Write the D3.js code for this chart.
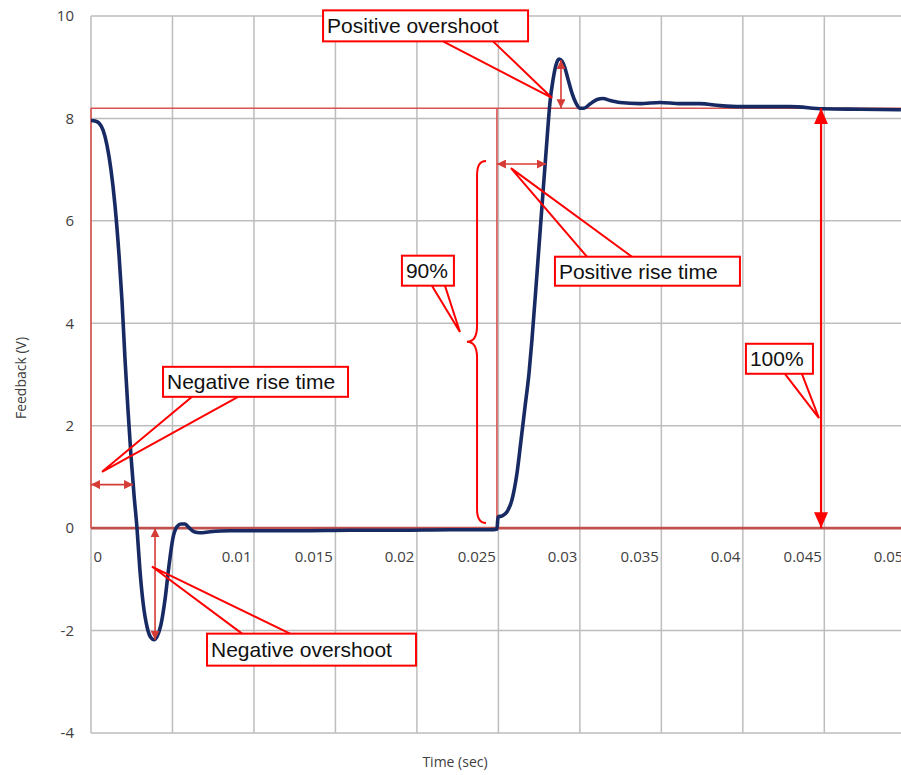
<!DOCTYPE html>
<html>
<head>
<meta charset="utf-8">
<script src="https://cdn.jsdelivr.net/npm/d3@7"></script>
<style>
  body { margin: 0; background: #fff; }
  svg { display: block; }
</style>
</head>
<body>
<script>
// step response
const timeSec = [0, 0.00025, 0.00049, 0.00074, 0.00098, 0.00123, 0.00147, 0.00172, 0.0019, 0.00209,
  0.00227, 0.00245, 0.00264, 0.00282, 0.003, 0.00319, 0.00344, 0.00368, 0.00387, 0.00405,
  0.00429, 0.00454, 0.00479, 0.00503, 0.00528, 0.00552, 0.00577, 0.00601, 0.00632, 0.00669,
  0.0073, 0.00853, 0.01037, 0.01283, 0.01589, 0.01896, 0.02203, 0.02448, 0.02491, 0.02498,
  0.02522, 0.02553, 0.02583, 0.02614, 0.02639, 0.02663, 0.02688, 0.02706, 0.02737, 0.02767,
  0.02798, 0.02816, 0.02835, 0.02853, 0.02872, 0.0289, 0.02909, 0.02927, 0.02952, 0.02976,
  0.03001, 0.03025, 0.03062, 0.03105, 0.03142, 0.03185, 0.03246, 0.03369, 0.03492, 0.03614,
  0.03737, 0.0386, 0.03983, 0.04105, 0.0429, 0.04492, 0.04719, 0.0497];
const feedbackV = [7.96, 7.95, 7.91, 7.77, 7.48, 6.99, 6.31, 5.33, 4.45, 3.28,
  2.31, 1.43, 0.65, 0.01, -0.81, -1.44, -1.93, -2.14, -2.18, -2.12,
  -1.89, -1.40, -0.72, -0.19, 0.03, 0.08, 0.08, 0.01, -0.07, -0.09,
  -0.07, -0.05, -0.05, -0.05, -0.04, -0.04, -0.03, -0.03, -0.02, 0.22,
  0.24, 0.32, 0.55, 1.07, 1.72, 2.36, 3.03, 3.68, 4.98, 6.27,
  7.58, 8.30, 8.75, 9.04, 9.16, 9.12, 8.98, 8.77, 8.49, 8.30,
  8.20, 8.20, 8.28, 8.37, 8.39, 8.35, 8.31, 8.29, 8.31, 8.29,
  8.29, 8.25, 8.23, 8.23, 8.23, 8.19, 8.18, 8.17];

const xGridValues = [0, 0.005, 0.01, 0.015, 0.02, 0.025, 0.03, 0.035, 0.04, 0.045, 0.05];
const xTickValues = [0, 0.01, 0.015, 0.02, 0.025, 0.03, 0.035, 0.04, 0.045, 0.05];
const xTickLabels = ['0', '0.01', '0.015', '0.02', '0.025', '0.03', '0.035', '0.04', '0.045', '0.05'];
const yTickValues = [-4, -2, 0, 2, 4, 6, 8, 10];

// reference levels
const finalLevel = 8.2;
const stepStart = 0;
const stepBack = 0.02491;

// measurement arrows [t1, v1, t2, v2]
const measureArrows = [
  [0, 0.85, 0.00258, 0.85],          // negative rise time
  [0.00393, 0, 0.00393, -2.18],      // negative overshoot
  [0.02491, 7.11, 0.02792, 7.11],    // positive rise time
  [0.02884, 9.14, 0.02884, 8.2]      // positive overshoot
];
const fullArrow = [0.0448, 8.2, 0.0448, 0];

// callouts: box corner (t, v), box size, tip (t, v), wedge base offsets, wedge side
const callouts = [
  { text: 'Negative rise time', t: 0.00442, v: 3.15, w: 185, h: 30, tipT: 0.00068, tipV: 1.10, base: [29, 75], side: 'bottom' },
  { text: 'Negative overshoot', t: 0.00712, v: -2.06, w: 209, h: 32, tipT: 0.00374, tipV: -0.75, base: [35, 83], side: 'top' },
  { text: '90%', t: 0.01908, v: 5.32, w: 52, h: 30, tipT: 0.02264, tipV: 3.83, base: [30, 43], side: 'bottom' },
  { text: 'Positive rise time', t: 0.02847, v: 5.30, w: 185, h: 29, tipT: 0.02577, tipV: 7.03, base: [32, 77], side: 'top' },
  { text: 'Positive overshoot', t: 0.01424, v: 10.11, w: 205, h: 31, tipT: 0.02829, tipV: 8.40, base: [120, 170], side: 'bottom' },
  { text: '100%', t: 0.04019, v: 3.6, w: 67, h: 30, tipT: 0.04467, tipV: 2.15, base: [39, 56], side: 'bottom' }
];

// 90% brace
const brace = { tEnd: 0.02424, tMid: 0.02369, tTip: 0.02307, vTop: 7.17, vBot: 0.10, vTip: 3.64 };

const width = 901, height = 775;
const x = d3.scaleLinear().domain([0, 0.05]).range([91, 905.8]);
const y = d3.scaleLinear().domain([-4, 10]).range([733, 16]);

const svg = d3.select('body').append('svg')
  .attr('width', width)
  .attr('height', height);

const defs = svg.append('defs');
function marker(id, color, len, wid) {
  defs.append('marker')
    .attr('id', id)
    .attr('markerUnits', 'userSpaceOnUse')
    .attr('viewBox', `0 ${-wid / 2} ${len} ${wid}`)
    .attr('refX', len)
    .attr('refY', 0)
    .attr('markerWidth', len)
    .attr('markerHeight', wid)
    .attr('orient', 'auto-start-reverse')
    .append('path')
    .attr('d', `M0,${-wid / 2}L${len},0L0,${wid / 2}Z`)
    .attr('fill', color);
}
marker('headSmall', '#d63c36', 9, 9);
marker('headBig', '#ff0000', 16, 14);

// gridlines
svg.append('g')
  .selectAll('line')
  .data(yTickValues)
  .enter()
  .append('line')
  .attr('x1', 91)
  .attr('x2', width)
  .attr('y1', d => y(d))
  .attr('y2', d => y(d))
  .attr('stroke', '#bdbdbd')
  .attr('stroke-width', 1.5);

svg.append('g')
  .selectAll('line')
  .data(xGridValues)
  .enter()
  .append('line')
  .attr('x1', d => x(d))
  .attr('x2', d => x(d))
  .attr('y1', y(10))
  .attr('y2', y(-4))
  .attr('stroke', '#bdbdbd')
  .attr('stroke-width', 1.5);

// y tick labels
const yAxis = d3.axisLeft(y).tickValues(yTickValues).tickSize(0).tickPadding(17)
  .tickFormat(d => String(d));
svg.append('g')
  .attr('transform', 'translate(91,0)')
  .call(yAxis)
  .call(g => g.select('.domain').remove())
  .selectAll('text')
  .attr('font-family', '"Open Sans", sans-serif')
  .attr('font-size', 15)
  .attr('fill', '#404040');

// x tick labels sit just under the zero line, right-aligned to the gridline
const xAxis = d3.axisBottom(x).tickValues(xTickValues).tickSize(0)
  .tickFormat((d, i) => xTickLabels[i]);
svg.append('g')
  .attr('transform', `translate(0,${y(0)})`)
  .call(xAxis)
  .call(g => g.select('.domain').remove())
  .selectAll('text')
  .attr('font-family', '"Open Sans", sans-serif')
  .attr('font-size', 15)
  .attr('fill', '#404040')
  .attr('y', 23)
  .attr('text-anchor', d => d === 0 ? 'start' : 'end')
  .attr('x', d => d === 0 ? 2 : -3);

// axis titles
svg.append('text')
  .attr('x', 455)
  .attr('y', 767)
  .attr('text-anchor', 'middle')
  .attr('font-family', '"Open Sans", sans-serif')
  .attr('font-size', 14)
  .attr('fill', '#404040')
  .text('Time (sec)');

svg.append('text')
  .attr('transform', 'translate(26,378) rotate(-90)')
  .attr('text-anchor', 'middle')
  .attr('font-family', '"Open Sans", sans-serif')
  .attr('font-size', 14)
  .attr('fill', '#404040')
  .text('Feedback (V)');

// reference lines
const ref = svg.append('g').attr('fill', 'none');
ref.append('line')
  .attr('x1', x(stepStart)).attr('x2', width)
  .attr('y1', y(finalLevel)).attr('y2', y(finalLevel))
  .attr('stroke', '#d9534f').attr('stroke-width', 1.6);
ref.append('line')
  .attr('x1', x(stepStart)).attr('x2', x(stepStart))
  .attr('y1', y(finalLevel)).attr('y2', y(0))
  .attr('stroke', '#d9534f').attr('stroke-width', 1.6);
ref.append('line')
  .attr('x1', x(stepBack)).attr('x2', x(stepBack))
  .attr('y1', y(finalLevel)).attr('y2', y(0))
  .attr('stroke', '#d9534f').attr('stroke-width', 1.6);
ref.append('line')
  .attr('x1', x(stepStart)).attr('x2', width)
  .attr('y1', y(0)).attr('y2', y(0))
  .attr('stroke', '#c0504d').attr('stroke-width', 2.6);

// trace
const points = timeSec.map((t, i) => [t, feedbackV[i]]);
const line = d3.line()
  .x(d => x(d[0]))
  .y(d => y(d[1]))
  .curve(d3.curveMonotoneX);

svg.append('path')
  .datum(points)
  .attr('fill', 'none')
  .attr('stroke', '#172a63')
  .attr('stroke-width', 3.6)
  .attr('stroke-linejoin', 'round')
  .attr('d', line);

// measurement arrows
svg.append('g')
  .selectAll('line')
  .data(measureArrows)
  .enter()
  .append('line')
  .attr('x1', d => x(d[0]))
  .attr('y1', d => y(d[1]))
  .attr('x2', d => x(d[2]))
  .attr('y2', d => y(d[3]))
  .attr('stroke', '#d63c36')
  .attr('stroke-width', 1.6)
  .attr('marker-start', 'url(#headSmall)')
  .attr('marker-end', 'url(#headSmall)');

svg.append('line')
  .attr('x1', x(fullArrow[0]))
  .attr('y1', y(fullArrow[1]))
  .attr('x2', x(fullArrow[2]))
  .attr('y2', y(fullArrow[3]))
  .attr('stroke', '#ff0000')
  .attr('stroke-width', 2.2)
  .attr('marker-start', 'url(#headBig)')
  .attr('marker-end', 'url(#headBig)');

// brace for 90%
{
  const xe = x(brace.tEnd), xm = x(brace.tMid), xt = x(brace.tTip);
  const yt = y(brace.vTop), yb = y(brace.vBot), yp = y(brace.vTip);
  const p = d3.path();
  p.moveTo(xe, yt);
  p.quadraticCurveTo(xm, yt, xm, yt + 14);
  p.lineTo(xm, yp - 16);
  p.quadraticCurveTo(xm, yp, xt, yp);
  p.quadraticCurveTo(xm, yp, xm, yp + 16);
  p.lineTo(xm, yb - 14);
  p.quadraticCurveTo(xm, yb, xe, yb);
  svg.append('path')
    .attr('d', p.toString())
    .attr('fill', 'none')
    .attr('stroke', '#ff0000')
    .attr('stroke-width', 2);
}

// callouts
const cg = svg.append('g');
callouts.forEach(c => {
  const bx = x(c.t), by = y(c.v);
  const baseY = c.side === 'top' ? by : by + c.h;
  const tx = x(c.tipT), ty = y(c.tipV);
  cg.append('rect')
    .attr('x', bx)
    .attr('y', by)
    .attr('width', c.w)
    .attr('height', c.h)
    .attr('fill', '#fff')
    .attr('stroke', '#ff0000')
    .attr('stroke-width', 2);
  cg.append('path')
    .attr('d', `M${bx + c.base[0]},${baseY}L${tx},${ty}L${bx + c.base[1]},${baseY}`)
    .attr('fill', 'none')
    .attr('stroke', '#ff0000')
    .attr('stroke-width', 2)
    .attr('stroke-linejoin', 'miter');
  cg.append('text')
    .attr('x', bx + 4)
    .attr('y', by + c.h / 2 + 7.5)
    .attr('font-family', '"Liberation Sans", Arial, sans-serif')
    .attr('font-size', 21)
    .attr('fill', '#111')
    .text(c.text);
});
</script>
</body>
</html>
